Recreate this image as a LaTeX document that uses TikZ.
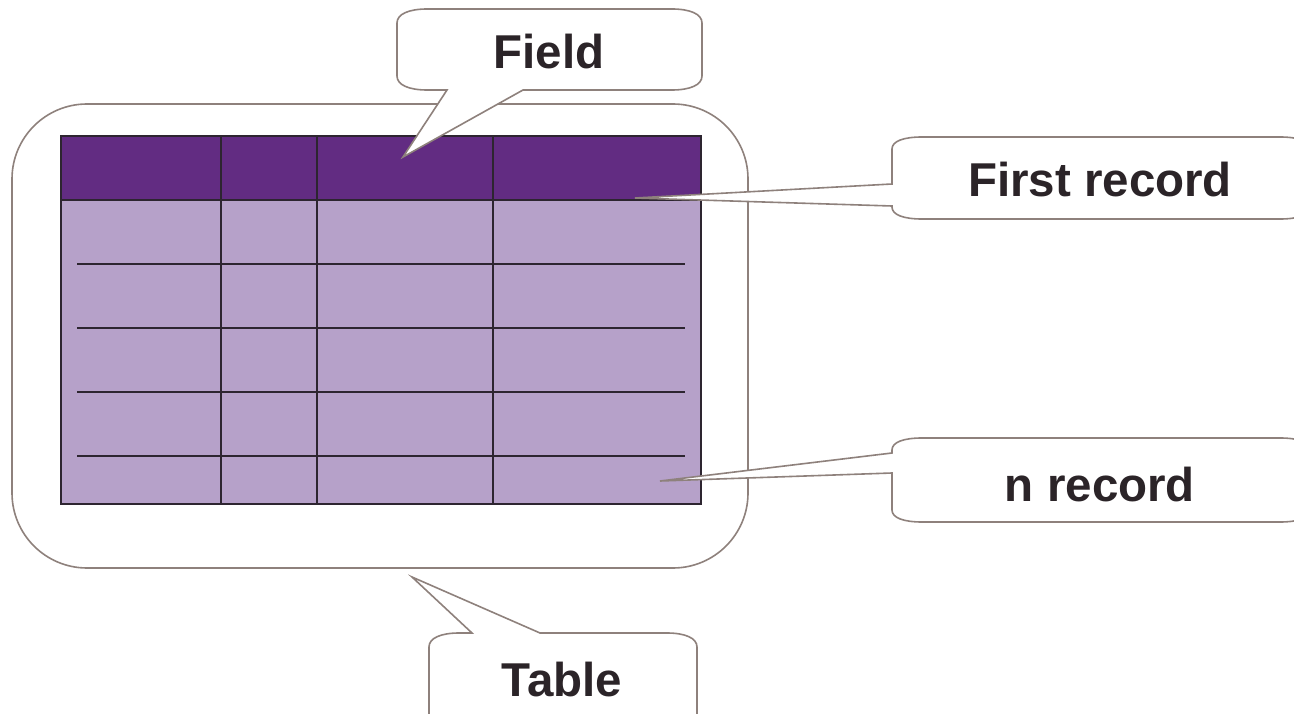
\documentclass[tikz,border=0pt]{standalone}
\usepackage{fontspec}
\setmainfont{Liberation Sans}
\definecolor{hdr}{HTML}{622C82}
\definecolor{body}{HTML}{B6A1C9}
\definecolor{grid}{HTML}{2D2530}
\definecolor{outl}{HTML}{8E817C}
\definecolor{txt}{HTML}{2B2428}
\tikzset{
  callout/.style={draw=outl, line width=1.6pt, fill=white, line join=miter},
  gridline/.style={draw=grid, line width=1.5pt},
  lbl/.style={font=\fontsize{47.5}{52}\selectfont\bfseries, text=txt, inner sep=0pt}
}
\begin{document}
\begin{tikzpicture}[x=1pt,y=-1pt]
\useasboundingbox (0,0) rectangle (1294,714);
\clip (0,0) rectangle (1294,714);
\fill[white] (0,0) rectangle (1294,714);
% big table outline
\draw[callout, rounded corners=75pt] (12,104) rectangle (748,568);
% table body
\fill[body] (61,200) rectangle (701,504);
\fill[hdr] (61,136) rectangle (701,200);
\foreach \y in {264,328,392,456} \draw[gridline] (77,\y) -- (685,\y);
\foreach \x in {221,317,493} \draw[gridline] (\x,136) -- (\x,504);
\draw[gridline] (61,200) -- (701,200);
\draw[gridline] (61,136) rectangle (701,504);
% Field callout
\draw[callout] (447,90) -- (403,157) -- (523,90) -- (672,90)
  .. controls (690,90) and (702,85) .. (702,76) -- (702,23)
  .. controls (702,14) and (690,9) .. (672,9) -- (427,9)
  .. controls (409,9) and (397,14) .. (397,23) -- (397,76)
  .. controls (397,85) and (409,90) .. (427,90) -- cycle;
\node[lbl] (field) at (549,52) {Field};
% First record callout
\draw[callout] (892,184) -- (635,198) -- (892,206) -- (892,207)
  .. controls (892,215) and (904,219) .. (922,219) -- (1280,219)
  .. controls (1298,219) and (1310,215) .. (1310,207) -- (1310,149)
  .. controls (1310,141) and (1298,137) .. (1280,137) -- (922,137)
  .. controls (904,137) and (892,141) .. (892,149) -- cycle;
\node[lbl] (first) at (1100,180) {First record};
% n record callout
\draw[callout] (892,453) -- (660,481) -- (892,473) -- (892,510)
  .. controls (892,518) and (904,522) .. (922,522) -- (1280,522)
  .. controls (1298,522) and (1310,518) .. (1310,510) -- (1310,450)
  .. controls (1310,442) and (1298,438) .. (1280,438) -- (922,438)
  .. controls (904,438) and (892,442) .. (892,450) -- cycle;
\node[lbl] (nrec) at (1100,485) {n record};
% Table callout
\draw[callout] (472,633) -- (412,577) -- (540,633) -- (667,633)
  .. controls (685,633) and (697,638) .. (697,647) -- (697,730)
  -- (429,730) -- (429,647)
  .. controls (429,638) and (441,633) .. (459,633) -- cycle;
\node[lbl] (table) at (562,680) {Table};
\end{tikzpicture}
\end{document}
